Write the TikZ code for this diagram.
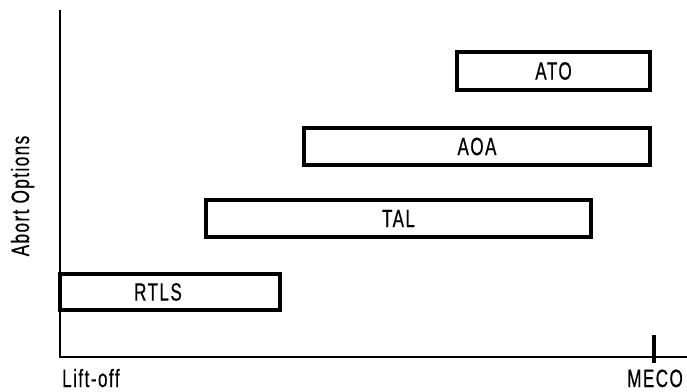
\documentclass[tikz,border=0pt]{standalone}
\usepackage{fontspec}
\setmainfont{Liberation Sans}[FakeStretch=0.68,FakeBold=0.6,LetterSpace=6]
\begin{document}
\begin{tikzpicture}[x=1bp,y=-1bp,
  bar/.style={draw=black, line width=4.5bp, rectangle, inner sep=0pt, font=\fontsize{25bp}{29bp}\selectfont},
  lbl/.style={inner sep=0pt, font=\fontsize{25bp}{29bp}\selectfont},
  axis/.style={line width=2.5bp, line cap=butt}]
\useasboundingbox (0,0) rectangle (687,391);
% axes
\coordinate (top) at (60,10);
\coordinate (origin) at (60,357);
\coordinate (xend) at (687,357);
\coordinate (tickt) at (654,335);
\coordinate (tickb) at (654,363);
\draw[axis] (top) -- (origin) -- (xend);
\draw[line width=3.5bp] (tickt) -- (tickb);
% bars
\node[bar, minimum width=193bp, minimum height=38bp] (ato) at (553.5,71) {ATO};
\node[bar, minimum width=346bp, minimum height=37bp] (aoa) at (477,146.5) {AOA};
\node[bar, minimum width=385bp, minimum height=37bp] (tal) at (398.5,218.5) {TAL};
\node[bar, minimum width=220bp, minimum height=36bp] (rtls) at (170,292) {\hspace*{-24bp}RTLS};
% labels
\node[lbl, anchor=base west] (lift) at (62,387) {Lift-off};
\node[lbl, anchor=base east] (meco) at (683,387) {MECO};
\node[lbl, rotate=90, anchor=base] (abort) at (29,196) {Abort Options};
\end{tikzpicture}
\end{document}
